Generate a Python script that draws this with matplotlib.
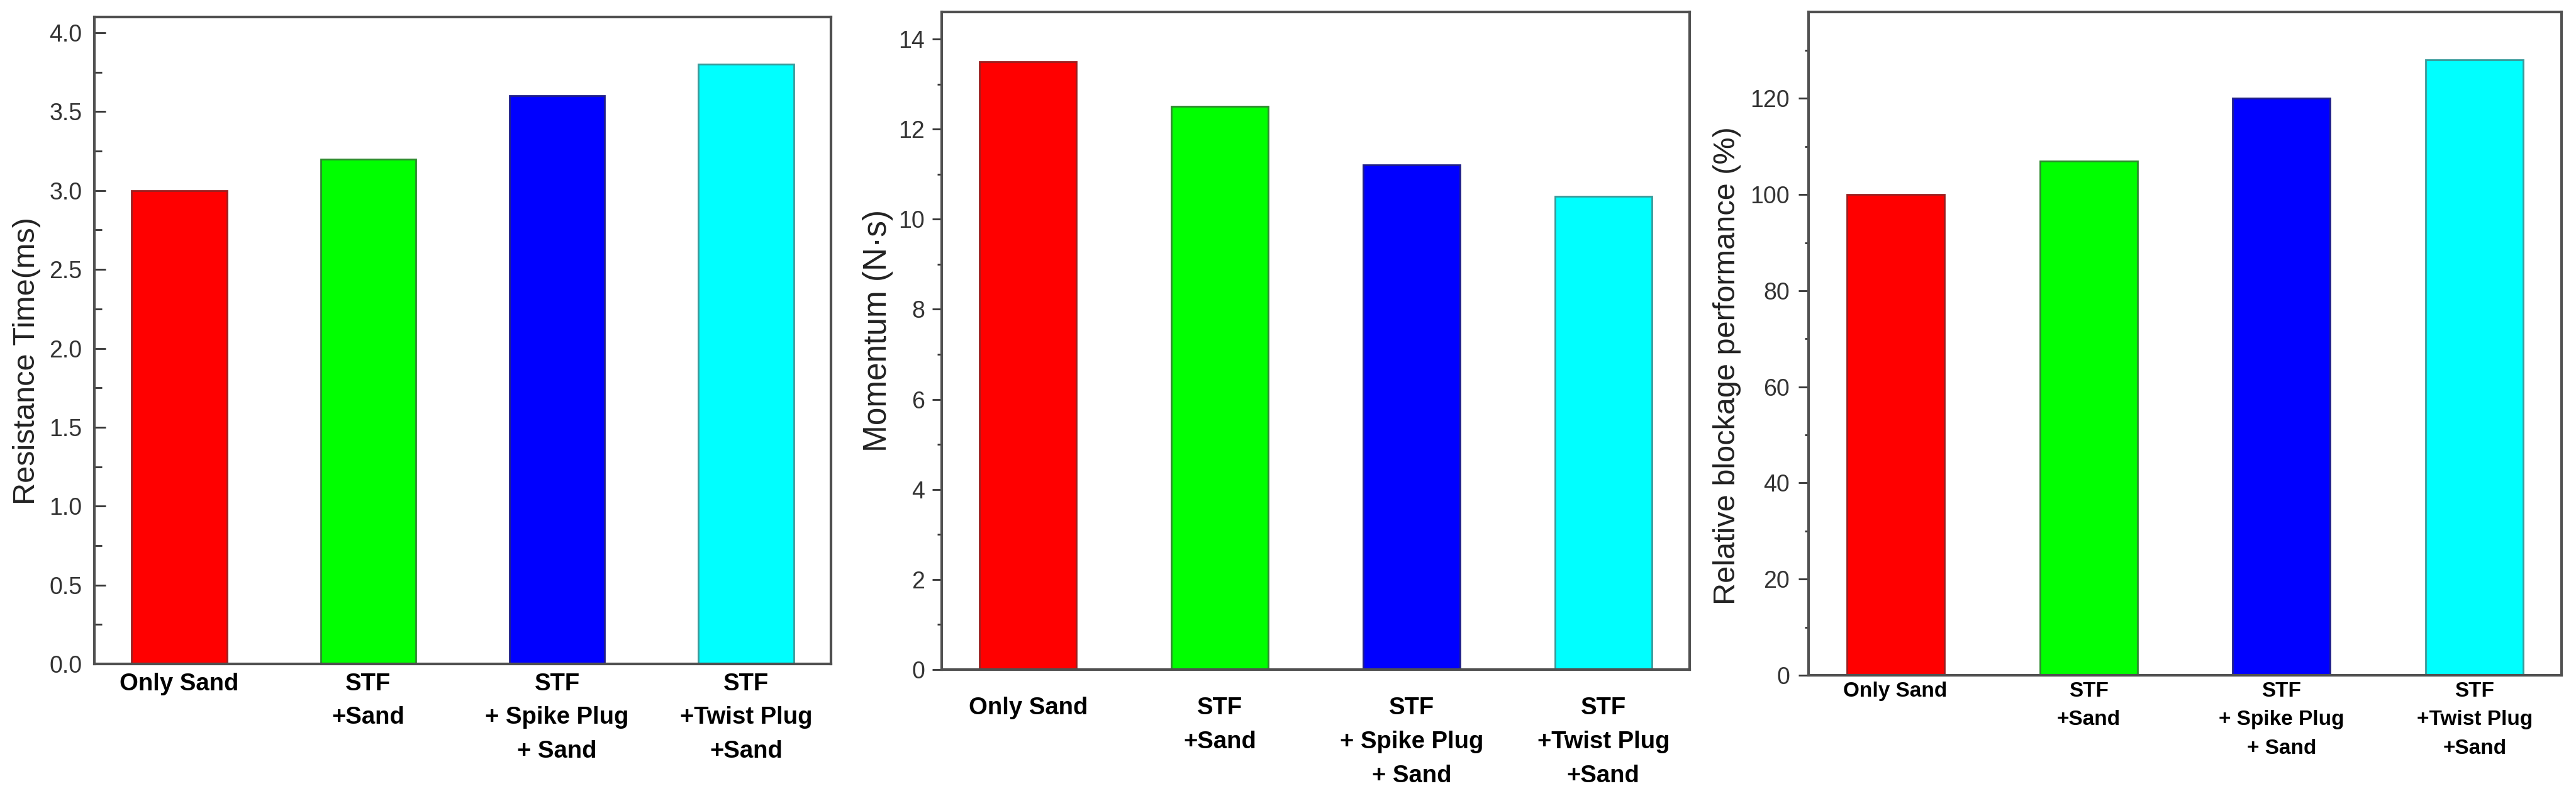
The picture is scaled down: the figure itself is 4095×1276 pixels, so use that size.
import matplotlib.pyplot as plt
from matplotlib.ticker import MultipleLocator, FormatStrFormatter

# data
categories = ["Only Sand", "STF\n+Sand", "STF\n+ Spike Plug\n+ Sand", "STF\n+Twist Plug\n+Sand"]
resistance_time = [3.0, 3.2, 3.6, 3.8]
momentum = [13.5, 12.5, 11.2, 10.5]
blockage = [100, 107, 120, 128]

bar_colors = ["#ff0000", "#00ff00", "#0000ff", "#00ffff"]
edge_colors = ["#9a2020", "#2e8b2e", "#20208a", "#3a9a9a"]

font = ["Liberation Sans", "DejaVu Sans"]

fig = plt.figure(figsize=(40.95, 12.76), dpi=100)
W, H = 4095.0, 1276.0


def make_axes(x0, x1, y0, y1):
    return fig.add_axes([x0 / W, 1 - y1 / H, (x1 - x0) / W, (y1 - y0) / H])


panels = [
    dict(box=(150, 1321, 27, 1055), vals=resistance_time, ylim=4.1, major=0.5, minor=0.25, fmt="%.1f",
         ylabel="Resistance Time(ms)", lab=(-0.092, 0.468), labsize=35, tdir="in", mlen=13, nlen=8.5,
         ypad=14, xpad=10, xsize=27.5, lsp=1.62),
    dict(box=(1497, 2686, 19, 1064), vals=momentum, ylim=14.6, major=2, minor=1, fmt="%d",
         ylabel="Momentum (N\u00b7s)", lab=(-0.085, 0.515), labsize=37, tdir="out", mlen=11, nlen=5,
         ypad=8.5, xpad=31, xsize=27.5, lsp=1.65),
    dict(box=(2875, 4072, 19, 1073), vals=blockage, ylim=138, major=20, minor=10, fmt="%d",
         ylabel="Relative blockage performance (%)", lab=(-0.108, 0.467), labsize=35, tdir="out",
         mlen=11.5, nlen=4.5, ypad=10, xpad=7, xsize=24, lsp=1.6),
]

x = [1, 2, 3, 4]
for p in panels:
    ax = make_axes(*p["box"])
    ax.bar(x, p["vals"], width=0.505, color=bar_colors, edgecolor=edge_colors, linewidth=2, zorder=2)
    ax.set_xlim(0.55, 4.45)
    ax.set_ylim(0, p["ylim"])

    ax.set_xticks(x)
    ax.set_xticklabels(categories, fontsize=p["xsize"], fontweight="bold", family=font,
                       linespacing=p["lsp"])
    ax.tick_params(axis="x", length=0, pad=p["xpad"])

    ax.yaxis.set_major_locator(MultipleLocator(p["major"]))
    ax.yaxis.set_minor_locator(MultipleLocator(p["minor"]))
    ax.yaxis.set_major_formatter(FormatStrFormatter(p["fmt"]))
    ax.tick_params(axis="y", which="major", direction=p["tdir"], length=p["mlen"], width=2,
                   color="#333333", labelsize=27, labelcolor="#333333", pad=p["ypad"])
    ax.tick_params(axis="y", which="minor", direction=p["tdir"], length=p["nlen"], width=2,
                   color="#333333")
    for t in ax.get_yticklabels():
        t.set_family(font)

    for s in ax.spines.values():
        s.set_linewidth(3)
        s.set_color("#505050")

    ax.set_ylabel(p["ylabel"], fontsize=p["labsize"], family=font, color="#222222", va="center")
    ax.yaxis.set_label_coords(*p["lab"])

fig.savefig("out.png", dpi=100, facecolor="white")
